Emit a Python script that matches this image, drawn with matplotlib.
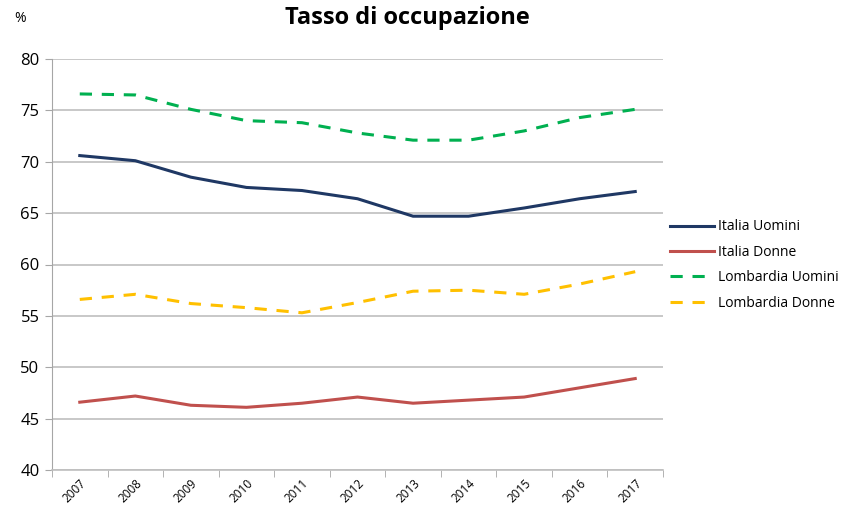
import matplotlib
matplotlib.use("Agg")
import matplotlib.pyplot as plt
import numpy as np

years = ["2007", "2008", "2009", "2010", "2011", "2012", "2013", "2014", "2015", "2016", "2017"]
italia_uomini = [70.6, 70.1, 68.5, 67.5, 67.2, 66.4, 64.7, 64.7, 65.5, 66.4, 67.1]
italia_donne = [46.6, 47.2, 46.3, 46.1, 46.5, 47.1, 46.5, 46.8, 47.1, 48.0, 48.9]
lombardia_uomini = [76.6, 76.5, 75.1, 74.0, 73.8, 72.8, 72.1, 72.1, 73.0, 74.3, 75.1]
lombardia_donne = [56.6, 57.1, 56.2, 55.8, 55.3, 56.3, 57.4, 57.5, 57.1, 58.1, 59.3]
yticks = [40, 45, 50, 55, 60, 65, 70, 75, 80]

plt.rcParams['font.family'] = ['Open Sans', 'DejaVu Sans']

fig = plt.figure(figsize=(8.43, 5.08), dpi=100)
ax = fig.add_axes([52/843, 38/508, (663-52)/843, (470-59)/508])

x = np.arange(len(years))
ax.plot(x, italia_uomini, color="#1F3864", lw=2.2, label="Italia Uomini")
ax.plot(x, italia_donne, color="#C0504D", lw=2.2, label="Italia Donne")
ax.plot(x, lombardia_uomini, color="#00B050", lw=2.2, ls=(0, (4, 3.2)), label="Lombardia Uomini")
ax.plot(x, lombardia_donne, color="#FFC000", lw=2.2, ls=(0, (4, 3.2)), label="Lombardia Donne")

ax.set_xlim(-0.5, len(years) - 0.5)
ax.set_ylim(40, 80)
ax.set_yticks(yticks)
ax.set_yticklabels([str(v) for v in yticks], fontsize=12)
ax.yaxis.grid(True, color="#BFBFBF", lw=1.2)
ax.set_axisbelow(True)

ax.set_xticks(x)
ax.set_xticklabels(years, rotation=45, fontsize=8.5, ha="right", va="top",
                   rotation_mode="anchor")
ax.tick_params(axis="x", length=0, pad=5)
ax.set_xticks(np.arange(-0.5, len(years)), minor=True)
ax.tick_params(axis="x", which="minor", length=5, color="#A6A6A6")
ax.tick_params(axis="y", length=5, color="#A6A6A6", pad=4)

for s in ["top", "right"]:
    ax.spines[s].set_visible(False)
ax.spines["left"].set_color("#A6A6A6")
ax.spines["bottom"].set_color("#BFBFBF")
ax.spines["bottom"].set_linewidth(1.2)

fig.text(407/843, 1 - 18/508, "Tasso di occupazione", ha="center", va="center",
         fontsize=17, fontweight="bold")
fig.text(20/843, 1 - 18/508, "%", ha="center", va="center", fontsize=10)

leg = ax.legend(loc="center left", bbox_to_anchor=(657/843, 1 - 265/508),
                bbox_transform=fig.transFigure, frameon=False, fontsize=10,
                handlelength=3.2, labelspacing=0.75, handletextpad=0.3)

fig.savefig("out.png", dpi=100)
